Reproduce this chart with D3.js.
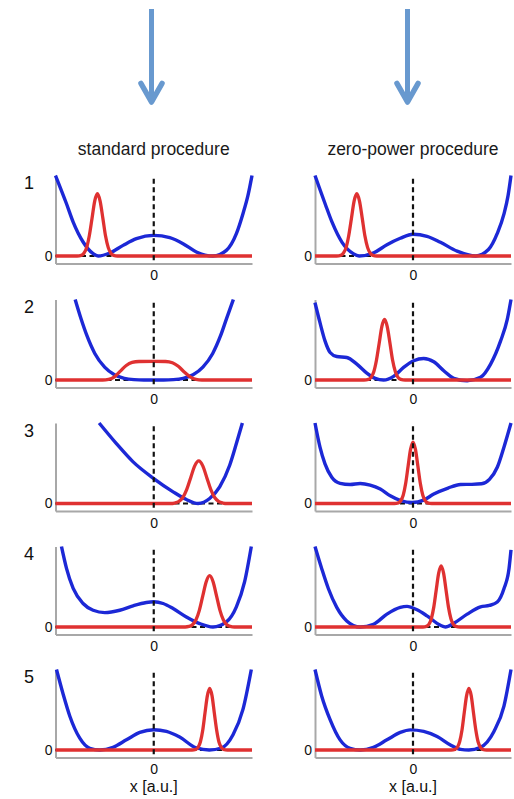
<!DOCTYPE html>
<html><head><meta charset="utf-8">
<script src="https://cdn.jsdelivr.net/npm/d3@7"></script>
<style>body{margin:0;background:#fff}svg{display:block}</style>
</head><body><svg id="c" width="514" height="799"></svg>
<script>
// ---------- data ----------
const rowLabels = ["1","2","3","4","5"];
const columnTitles = ["standard procedure","zero-power procedure"];
const xTicks = [0];
const yTicks = [0];
const xAxisLabel = "x [a.u.]";

// potentials (blue), [x, V]
const stdPot1 = [[-1,1.0],[-0.888,0.649],[-0.82,0.421],[-0.719,0.174],[-0.617,0.029],[-0.566,0],[-0.447,0.037],[-0.312,0.132],[-0.176,0.215],[0,0.256],[0.163,0.227],[0.298,0.153],[0.434,0.05],[0.603,0],[0.739,0.07],[0.841,0.277],[0.908,0.525],[0.959,0.752],[1,1.0]];
const stdPot2 = [[-0.8,1.0],[-0.74,0.76],[-0.68,0.55],[-0.6,0.33],[-0.5,0.16],[-0.4,0.065],[-0.3,0.02],[-0.2,0.004],[-0.1,0],[0,0],[0.1,0],[0.2,0.004],[0.3,0.02],[0.4,0.065],[0.5,0.16],[0.6,0.33],[0.68,0.55],[0.74,0.76],[0.81,1.0]];
const stdPot3 = [[-0.556,1.0],[-0.38,0.744],[-0.21,0.517],[0,0.31],[0.197,0.145],[0.332,0.05],[0.451,0],[0.569,0.062],[0.671,0.207],[0.773,0.475],[0.841,0.744],[0.902,1.0]];
const stdPot4 = [[-0.939,1.0],[-0.888,0.729],[-0.82,0.479],[-0.719,0.292],[-0.617,0.208],[-0.498,0.179],[-0.346,0.208],[-0.21,0.263],[-0.075,0.304],[0,0.313],[0.095,0.292],[0.197,0.229],[0.332,0.125],[0.468,0.042],[0.603,0],[0.739,0.063],[0.841,0.25],[0.925,0.563],[0.993,1.0]];
const stdPot5 = [[-0.99,1.0],[-0.922,0.693],[-0.854,0.42],[-0.753,0.147],[-0.651,0.021],[-0.549,0],[-0.414,0.034],[-0.278,0.126],[-0.142,0.218],[0,0.252],[0.129,0.231],[0.264,0.16],[0.434,0.025],[0.565,0],[0.688,0.025],[0.807,0.19],[0.908,0.504],[0.993,1.0]];

const zpPot1 = [[-1,1.0],[-0.894,0.64],[-0.826,0.42],[-0.724,0.17],[-0.61,0.03],[-0.55,0],[-0.40,0.04],[-0.266,0.14],[-0.13,0.22],[0,0.27],[0.143,0.245],[0.28,0.17],[0.45,0.06],[0.64,0],[0.77,0.08],[0.86,0.28],[0.93,0.53],[0.97,0.75],[1,1.0]];
const zpPot2 = [[-1,0.96],[-0.949,0.712],[-0.898,0.486],[-0.846,0.342],[-0.778,0.292],[-0.676,0.28],[-0.573,0.198],[-0.471,0.086],[-0.386,0.021],[-0.3,0],[-0.198,0.045],[-0.096,0.156],[0.007,0.239],[0.109,0.267],[0.212,0.226],[0.314,0.115],[0.416,0.021],[0.553,-0.01],[0.689,0.033],[0.792,0.198],[0.894,0.486],[0.962,0.753],[1,1.0]];
const zpPot3 = [[-1,1.0],[-0.949,0.70],[-0.898,0.492],[-0.829,0.325],[-0.744,0.25],[-0.642,0.236],[-0.539,0.248],[-0.437,0.228],[-0.334,0.179],[-0.232,0.096],[-0.119,0.033],[-0.01,0.012],[0.109,0.042],[0.212,0.117],[0.358,0.192],[0.485,0.236],[0.6,0.238],[0.7,0.245],[0.78,0.3],[0.86,0.45],[0.928,0.70],[1,1.0]];
const zpPot4 = [[-1,1.0],[-0.932,0.727],[-0.863,0.475],[-0.778,0.244],[-0.676,0.076],[-0.539,0],[-0.403,0.034],[-0.266,0.16],[-0.13,0.244],[-0.061,0.256],[0.041,0.214],[0.143,0.139],[0.28,0.021],[0.331,0],[0.416,0.046],[0.553,0.16],[0.689,0.25],[0.78,0.268],[0.86,0.31],[0.928,0.475],[0.98,0.727],[1,0.958]];
const zpPot5 = [[-1,1.0],[-0.932,0.672],[-0.846,0.378],[-0.744,0.126],[-0.642,0.021],[-0.539,0],[-0.403,0.034],[-0.266,0.126],[-0.13,0.218],[-0.027,0.25],[0.109,0.231],[0.246,0.168],[0.382,0.063],[0.485,0.008],[0.57,0],[0.689,0.034],[0.826,0.231],[0.928,0.546],[1,1.0]];

// wave packets (red), [x, |psi|^2]
const stdWave1 = [[-1,0],[-0.78,0],[-0.738,0.008],[-0.711,0.034],[-0.683,0.104],[-0.656,0.251],[-0.628,0.469],[-0.601,0.682],[-0.573,0.773],[-0.546,0.682],[-0.518,0.469],[-0.491,0.251],[-0.463,0.104],[-0.436,0.034],[-0.408,0.008],[-0.37,0],[1,0]];
const stdWave2 = [[-1,0],[-0.52,0],[-0.46,0.008],[-0.40,0.04],[-0.34,0.11],[-0.28,0.18],[-0.22,0.218],[-0.15,0.23],[0,0.232],[0.12,0.23],[0.19,0.215],[0.25,0.17],[0.31,0.10],[0.37,0.04],[0.43,0.008],[0.49,0],[1,0]];
const stdWave3 = [[-1,0],[0.17,0],[0.212,0.006],[0.253,0.023],[0.294,0.071],[0.335,0.172],[0.376,0.321],[0.417,0.467],[0.458,0.529],[0.499,0.467],[0.54,0.321],[0.581,0.172],[0.622,0.071],[0.663,0.023],[0.704,0.006],[0.75,0],[1,0]];
const stdWave4 = [[-1,0],[0.32,0],[0.359,0.007],[0.394,0.028],[0.429,0.086],[0.464,0.207],[0.499,0.387],[0.534,0.563],[0.569,0.638],[0.604,0.563],[0.639,0.387],[0.674,0.207],[0.709,0.086],[0.744,0.028],[0.779,0.007],[0.82,0],[1,0]];
const stdWave5 = [[-1,0],[0.39,0],[0.428,0.008],[0.452,0.034],[0.475,0.103],[0.499,0.249],[0.522,0.464],[0.546,0.675],[0.569,0.765],[0.593,0.675],[0.616,0.464],[0.64,0.249],[0.663,0.103],[0.687,0.034],[0.71,0.008],[0.75,0],[1,0]];

const zpWave1 = [[-1,0],[-0.78,0],[-0.738,0.008],[-0.711,0.034],[-0.683,0.104],[-0.656,0.251],[-0.628,0.469],[-0.601,0.682],[-0.573,0.773],[-0.546,0.682],[-0.518,0.469],[-0.491,0.251],[-0.463,0.104],[-0.436,0.034],[-0.408,0.008],[-0.37,0],[1,0]];
const zpWave2 = [[-1,0],[-0.5,0],[-0.455,0.008],[-0.428,0.033],[-0.4,0.102],[-0.373,0.245],[-0.345,0.457],[-0.318,0.664],[-0.29,0.753],[-0.263,0.664],[-0.235,0.457],[-0.208,0.245],[-0.18,0.102],[-0.153,0.033],[-0.125,0.008],[-0.08,0],[1,0]];
const zpWave3 = [[-1,0],[-0.19,0],[-0.15,0.008],[-0.125,0.034],[-0.1,0.103],[-0.075,0.248],[-0.05,0.463],[-0.025,0.673],[0,0.763],[0.025,0.673],[0.05,0.463],[0.075,0.248],[0.1,0.103],[0.125,0.034],[0.15,0.008],[0.19,0],[1,0]];
const zpWave4 = [[-1,0],[0.1,0],[0.137,0.008],[0.162,0.033],[0.187,0.103],[0.212,0.247],[0.237,0.461],[0.262,0.67],[0.287,0.76],[0.312,0.67],[0.337,0.461],[0.362,0.247],[0.387,0.103],[0.412,0.033],[0.437,0.008],[0.48,0],[1,0]];
const zpWave5 = [[-1,0],[0.39,0],[0.429,0.008],[0.453,0.034],[0.476,0.103],[0.5,0.249],[0.523,0.464],[0.547,0.675],[0.57,0.765],[0.594,0.675],[0.617,0.464],[0.641,0.249],[0.664,0.103],[0.688,0.034],[0.711,0.008],[0.75,0],[1,0]];

// ---------- layout ----------
const potentials = [[stdPot1,stdPot2,stdPot3,stdPot4,stdPot5],[zpPot1,zpPot2,zpPot3,zpPot4,zpPot5]];
const waves = [[stdWave1,stdWave2,stdWave3,stdWave4,stdWave5],[zpWave1,zpWave2,zpWave3,zpWave4,zpWave5]];

const colX = [[55.5,252],[315,511]];
const rowBase = [256,380,503.5,627,750];
const unitPx = 80.5, axisGap = 7.5;
const FONT = "'Liberation Sans', Arial, Helvetica, sans-serif";
const BLUE = "#1c28d6", RED = "#df3131", GRAY = "#a8a8a8", ARROW = "#6899cf";

const svg = d3.select("#c");

// arrows
[151.5, 407.5].forEach(ax => {
  const g = svg.append("g").attr("stroke", ARROW).attr("fill","none").attr("stroke-width",5);
  g.append("line").attr("x1",ax).attr("x2",ax).attr("y1",9).attr("y2",100);
  g.append("path").attr("d",`M${ax-10.5},83.5L${ax},102L${ax+10.5},83.5`)
    .attr("stroke-linecap","round").attr("stroke-linejoin","round").attr("stroke-width",5.5);
});

// column titles
columnTitles.forEach((t,c) => {
  svg.append("text").attr("x",(colX[c][0]+colX[c][1])/2).attr("y",155)
    .attr("text-anchor","middle").attr("font-family",FONT).attr("font-size",17.5)
    .attr("fill","#1a1a1a").text(t);
});

// row labels
rowLabels.forEach((t,r) => {
  svg.append("text").attr("x",24).attr("y",rowBase[r]-67)
    .attr("font-family",FONT).attr("font-size",18).attr("fill","#111").text(t);
});

for (let c = 0; c < 2; c++) {
  for (let r = 0; r < 5; r++) {
    const base = rowBase[r];
    const x = d3.scaleLinear().domain([-1,1]).range(colX[c]);
    const y = d3.scaleLinear().domain([-axisGap/unitPx, 1]).range([base+axisGap, base-unitPx]);
    const g = svg.append("g");

    const ax = g.append("g").attr("transform",`translate(${colX[c][0]},0)`)
      .call(d3.axisLeft(y).tickValues(yTicks).tickSize(0).tickSizeOuter(0).tickPadding(3).tickFormat(d3.format("d")));
    const bx = g.append("g").attr("transform",`translate(0,${y.range()[0]})`)
      .call(d3.axisBottom(x).tickValues(xTicks).tickSize(0).tickSizeOuter(0).tickPadding(7).tickFormat(d3.format("d")));
    [ax,bx].forEach(a => {
      a.select(".domain").attr("stroke",GRAY).attr("stroke-width",2);
      a.selectAll("text").attr("font-family",FONT).attr("font-size",14).attr("fill","#111");
    });

    // dashed baseline
    g.append("line").attr("x1",x(-1)).attr("x2",x(1)).attr("y1",y(0)).attr("y2",y(0))
      .attr("stroke","#111").attr("stroke-width",1.8).attr("stroke-dasharray","5,3.5");

    const line = d3.line().x(d=>x(d[0])).y(d=>y(d[1])).curve(d3.curveMonotoneX);
    g.append("path").datum(potentials[c][r]).attr("d",line)
      .attr("fill","none").attr("stroke",BLUE).attr("stroke-width",3.4).attr("stroke-linejoin","round");
    g.append("path").datum(waves[c][r]).attr("d",line)
      .attr("fill","none").attr("stroke",RED).attr("stroke-width",3.3).attr("stroke-linejoin","round");

    // dashed x = 0 line
    g.append("line").attr("x1",x(0)).attr("x2",x(0)).attr("y1",y(0.96)).attr("y2",y.range()[0])
      .attr("stroke","#111").attr("stroke-width",2.2).attr("stroke-dasharray","5,3.5");

    if (r === 4) {
      g.append("text").attr("x",x(0)).attr("y",792).attr("text-anchor","middle")
        .attr("font-family",FONT).attr("font-size",16).attr("fill","#111").text(xAxisLabel);
    }
  }
}
</script></body></html>
